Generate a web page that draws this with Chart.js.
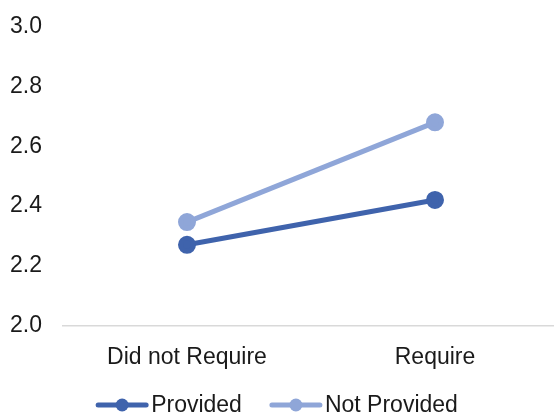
<!DOCTYPE html>
<html>
<head>
<meta charset="utf-8">
<script src="https://cdn.jsdelivr.net/npm/chart.js@4/dist/chart.umd.min.js"></script>
<style>
  html, body { margin: 0; padding: 0; background: #fff; overflow: hidden; }
  /* a little wider than the window: the plot area runs past the right edge like the original */
  #wrap { width: 559px; height: 417px; position: relative; }
</style>
</head>
<body>
<div id="wrap"><canvas id="chart"></canvas></div>
<script>
  const categories = ['Did not Require', 'Require'];
  const providedValues = [2.27, 2.42];
  const notProvidedValues = [2.346, 2.68];
  const seriesLabels = ['Provided', 'Not Provided'];
  const seriesColors = ['#3F63AC', '#8FA6D8'];
  const yTicks = [2.0, 2.2, 2.4, 2.6, 2.8, 3.0];

  const FONT = "'Liberation Sans', Arial, sans-serif";
  const TEXT = '#1a1a1a';

  // Excel-like legend: thick line sample with a dot, text right after it
  const bottomLegend = {
    id: 'bottomLegend',
    afterDraw(chart) {
      const ctx = chart.ctx;
      const sampleW = 52, textGap = 3, itemGap = 28;
      const cy = 405;
      ctx.save();
      ctx.font = '23px ' + FONT;
      const widths = seriesLabels.map((t) => ctx.measureText(t).width);
      const total = widths.reduce((s, w) => s + sampleW + textGap + w, 0) + itemGap * (seriesLabels.length - 1);
      let x = 277 - total / 2;
      seriesLabels.forEach((label, i) => {
        ctx.strokeStyle = seriesColors[i];
        ctx.fillStyle = seriesColors[i];
        ctx.lineWidth = 5;
        ctx.lineCap = 'round';
        ctx.beginPath();
        ctx.moveTo(x + 2, cy);
        ctx.lineTo(x + sampleW - 2, cy);
        ctx.stroke();
        ctx.beginPath();
        ctx.arc(x + sampleW / 2, cy, 6.5, 0, Math.PI * 2);
        ctx.fill();
        ctx.fillStyle = TEXT;
        ctx.textBaseline = 'middle';
        ctx.textAlign = 'left';
        ctx.fillText(label, x + sampleW + textGap, cy + 1);
        x += sampleW + textGap + widths[i] + itemGap;
      });
      ctx.restore();
    }
  };

  new Chart(document.getElementById('chart'), {
    type: 'line',
    data: {
      labels: categories,
      datasets: [
        {
          label: seriesLabels[0],
          data: providedValues,
          borderColor: seriesColors[0],
          backgroundColor: seriesColors[0],
          borderWidth: 5,
          pointRadius: 6.5,
          pointHoverRadius: 6.5
        },
        {
          label: seriesLabels[1],
          data: notProvidedValues,
          borderColor: seriesColors[1],
          backgroundColor: seriesColors[1],
          borderWidth: 5,
          pointRadius: 6.5,
          pointHoverRadius: 6.5
        }
      ]
    },
    options: {
      responsive: true,
      maintainAspectRatio: false,
      animation: false,
      layout: { autoPadding: false, padding: { top: 0, right: 0, left: 10, bottom: 28 } },
      plugins: {
        tooltip: { enabled: false },
        legend: { display: false }
      },
      scales: {
        x: {
          offset: true,
          grid: { display: false, drawTicks: false },
          border: { display: true, color: '#d9d9d9', width: 1.5 },
          ticks: { color: TEXT, padding: 18, font: { family: FONT, size: 23 } }
        },
        y: {
          min: yTicks[0],
          max: yTicks[yTicks.length - 1],
          afterFit: (scale) => { scale.width = 53; },
          afterBuildTicks: (scale) => { scale.ticks = yTicks.map((v) => ({ value: v })); },
          grid: { display: false, drawTicks: false },
          border: { display: false },
          ticks: {
            padding: 13,
            crossAlign: 'far',
            color: TEXT,
            font: { family: FONT, size: 23 },
            callback: (v) => v.toFixed(1)
          }
        }
      }
    },
    plugins: [bottomLegend]
  });
</script>
</body>
</html>
